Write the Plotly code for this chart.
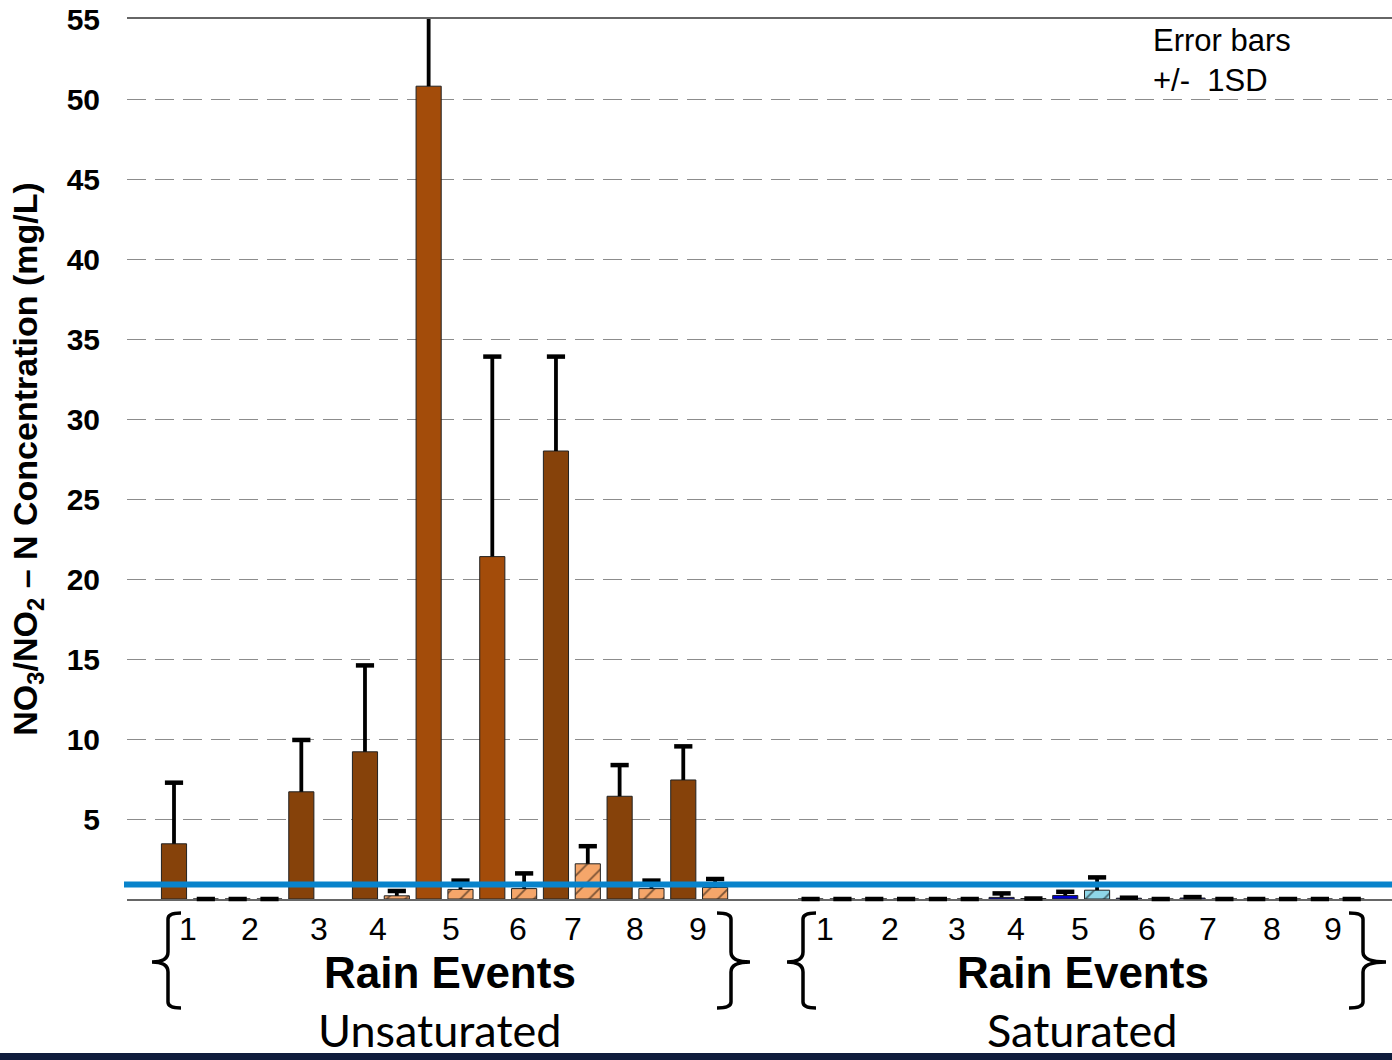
import plotly.graph_objects as go

# ---------------- data ----------------
events = ["1", "2", "3", "4", "5", "6", "7", "8", "9"]
groups = ["Unsaturated", "Saturated"]

unsat_dark = [3.45, 0, 6.7, 9.2, 50.8, 21.4, 28.0, 6.42, 7.44]
unsat_dark_sd = [3.82, 0, 3.24, 5.4, 8.0, 12.5, 5.9, 1.95, 2.1]
unsat_light = [0, 0, None, 0.2, 0.6, 0.65, 2.2, 0.65, 0.72]
unsat_light_sd = [0, 0, None, 0.3, 0.55, 0.95, 1.1, 0.5, 0.53]

sat_dark = [0, 0, 0, 0.1, 0.22, 0.05, 0.06, 0, 0]
sat_dark_sd = [0, 0, 0, 0.25, 0.23, 0.03, 0.06, 0, 0]
sat_light = [0, 0, 0, 0.03, 0.55, 0, 0, 0, 0]
sat_light_sd = [0, 0, 0, 0, 0.8, 0, 0, 0, 0]

threshold = 0.9
y_ticks = [5, 10, 15, 20, 25, 30, 35, 40, 45, 50, 55]

# ---------------- layout geometry ----------------
W, H = 1392, 1060
PL, PR, PT, PB = 127, 1392, 19, 899


def px(x):
    return (x - PL) / (PR - PL)


def py(y):
    return (PB - y) / (PB - PT)


BROWN = "#86420A"
BROWN2 = "#A34C0A"
PEACH = "#F5A66A"
DBLUE = "#0000CC"
LBLUE = "#8ED6E8"

n = len(events)
ux_dark = [2 * i for i in range(n)]
ux_light = [2 * i + 1 for i in range(n)]
sx_dark = [2 * n + 2 + 2 * i for i in range(n)]
sx_light = [2 * n + 3 + 2 * i for i in range(n)]

fig = go.Figure()


def add_bars(xs, ys, colors, hatch):
    m = dict(color=colors, line=dict(color="#222222", width=1))
    if hatch:
        m["pattern"] = dict(shape="/", fgcolor="black", fillmode="overlay",
                            size=13, solidity=0.14)
    fig.add_trace(go.Bar(x=xs, y=ys, width=0.79, marker=m, showlegend=False,
                         hoverinfo="y"))


def add_err(xs, ys, sds):
    xx, yy, ee, cy = [], [], [], []
    for x, y, s in zip(xs, ys, sds):
        if y is None:
            continue
        xx.append(x)
        yy.append(y)
        ee.append(s)
        cy.append(y + s)
    # stems (clipped to the plot area)
    fig.add_trace(go.Scatter(x=xx, y=yy, mode="markers",
                             marker=dict(size=1, color="rgba(0,0,0,0)"),
                             error_y=dict(type="data", symmetric=False, array=ee,
                                          arrayminus=[0] * len(ee), width=0,
                                          thickness=3.8, color="black"),
                             showlegend=False, hoverinfo="skip"))
    # caps
    fig.add_trace(go.Scatter(x=xx, y=cy, mode="markers", cliponaxis=False,
                             marker=dict(symbol="line-ew", size=13,
                                         line=dict(width=4.5, color="black")),
                             showlegend=False, hoverinfo="skip"))


ucolors = [BROWN2 if e in ("5", "6") else BROWN for e in events]
add_bars(ux_dark, unsat_dark, ucolors, False)
add_bars(ux_light, unsat_light, PEACH, True)
add_bars(sx_dark, sat_dark, DBLUE, False)
add_bars(sx_light, sat_light, LBLUE, True)

add_err(ux_dark, unsat_dark, unsat_dark_sd)
add_err(ux_light, unsat_light, unsat_light_sd)
add_err(sx_dark, sat_dark, sat_dark_sd)
add_err(sx_light, sat_light, sat_light_sd)

shapes = []
# threshold line
shapes.append(dict(type="line", xref="paper", yref="y", x0=px(124), x1=1.0,
                   y0=threshold, y1=threshold,
                   line=dict(color="#0883CB", width=6), layer="above"))


def brace(xe, xv, xt, yt=913, ym=962, yb=1008):
    pts = [
        ("M", [(xe, yt)]),
        ("Q", [(xv, yt), (xv, yt + 6)]),
        ("L", [(xv, ym - 10)]),
        ("Q", [(xv, ym), (xt, ym)]),
        ("Q", [(xv, ym), (xv, ym + 10)]),
        ("L", [(xv, yb - 6)]),
        ("Q", [(xv, yb), (xe, yb)]),
    ]
    s = ""
    for cmd, ps in pts:
        s += cmd + " " + " ".join(f"{px(a):.5f},{py(b):.5f}" for a, b in ps) + " "
    return dict(type="path", xref="paper", yref="paper", path=s.strip(),
                line=dict(color="black", width=3.5))


shapes += [brace(181, 168, 152), brace(717, 731, 750),
           brace(816, 803, 787), brace(1349, 1363, 1386)]

# bottom navy band
shapes.append(dict(type="rect", xref="paper", yref="paper",
                   x0=px(0), x1=1.0, y0=py(1060), y1=py(1053),
                   fillcolor="#101C3C", line=dict(width=0)))

annotations = []
unsat_num_px = [188, 250, 319, 378, 451, 518, 573, 635, 698]
sat_num_px = [825, 890, 957, 1016, 1080, 1147, 1208, 1272, 1333]
for labs_px in (unsat_num_px, sat_num_px):
    for lab, xp in zip(events, labs_px):
        annotations.append(dict(text=lab, x=px(xp), y=py(929), xref="paper", yref="paper",
                                showarrow=False, xanchor="center", yanchor="middle",
                                font=dict(family="Liberation Sans", size=32, color="black")))
for gname, cx in zip(groups, [450, 1083]):
    annotations.append(dict(text="<b>Rain Events</b>", x=px(cx), y=py(972),
                            xref="paper", yref="paper", showarrow=False,
                            xanchor="center", yanchor="middle",
                            font=dict(family="Liberation Sans", size=44, color="black")))
for gname, cx in zip(groups, [439, 1082]):
    annotations.append(dict(text=gname, x=px(cx), y=py(1030), xref="paper", yref="paper",
                            showarrow=False, xanchor="center", yanchor="middle",
                            font=dict(family="Lato", size=45, color="black")))
annotations.append(dict(text="Error bars<br>+/-  1SD", x=px(1151), y=py(21),
                        xref="paper", yref="paper", showarrow=False,
                        xanchor="left", yanchor="top", align="left",
                        font=dict(family="Liberation Sans", size=31, color="black")))

fig.update_layout(
    width=W, height=H,
    margin=dict(l=PL, r=W - PR, t=PT, b=H - PB, autoexpand=False),
    paper_bgcolor="white", plot_bgcolor="white",
    barmode="overlay",
    shapes=shapes, annotations=annotations,
    xaxis=dict(range=[(PL - 174) / 31.83, (PR - 174) / 31.83], showticklabels=False,
               showgrid=False, zeroline=False, showline=True, mirror=True,
               linecolor="#666666", linewidth=1.5, ticks="", layer="below traces"),
    yaxis=dict(range=[0, 55], tickvals=y_ticks, showgrid=True, gridcolor="#8C8C8C",
               gridwidth=1.4, griddash="19px,9px", zeroline=False, showline=False,
               ticks="", ticklabelstandoff=26,
               tickfont=dict(family="Liberation Sans", size=30, color="black", weight="bold"),
               title=dict(text="<b>NO<sub>3</sub>/NO<sub>2</sub> – N Concentration (mg/L)</b>",
                          font=dict(family="Liberation Sans", size=34, color="black"),
                          standoff=18)),
)

fig.write_html("out.html")
